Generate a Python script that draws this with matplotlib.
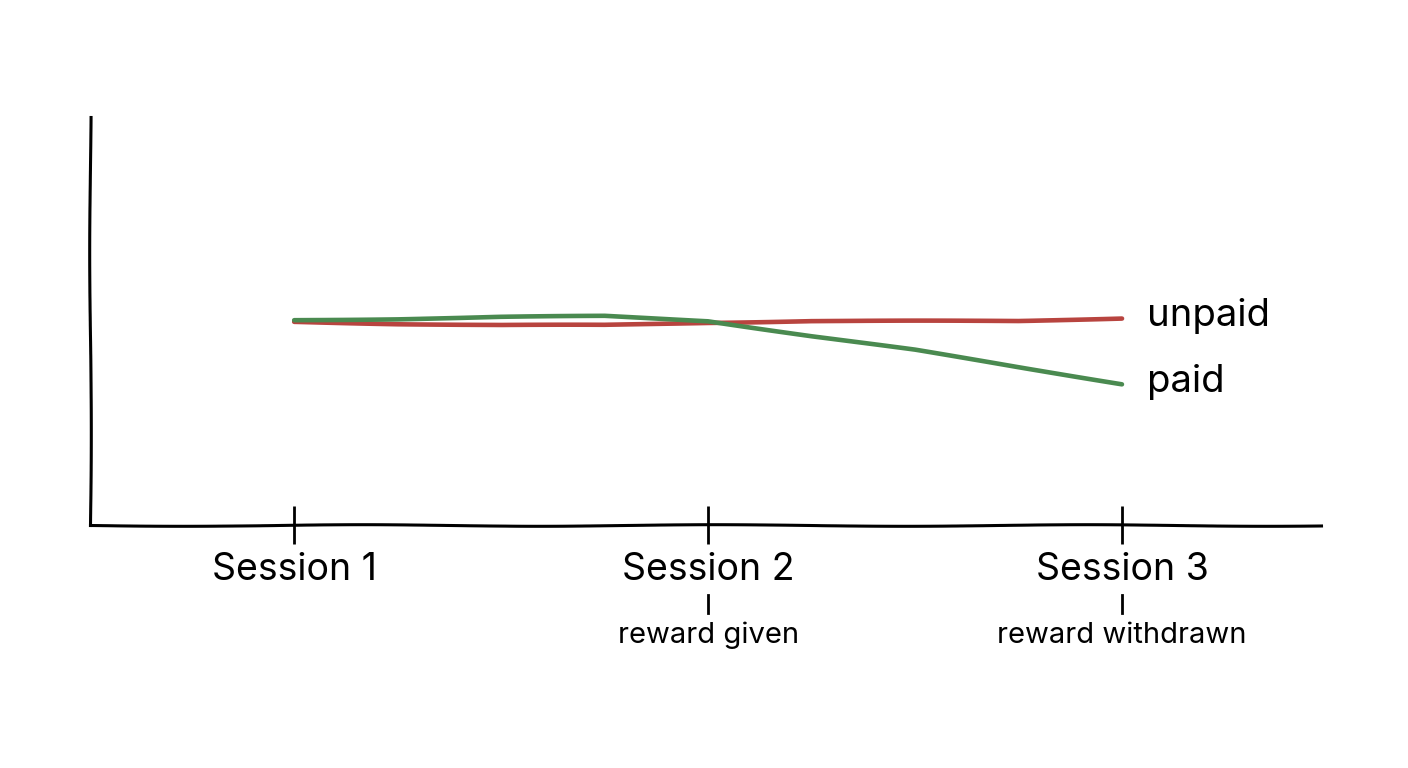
#!/usr/bin/env python3
"""Sketch-style line chart: paid vs unpaid across three sessions."""

import matplotlib
matplotlib.use('Agg')
import matplotlib.pyplot as plt

# ---------------------------------------------------------------------------
# Data
# ---------------------------------------------------------------------------

sessions       = ['Session 1', 'Session 2', 'Session 3']
session_x      = [1, 2, 3]
session_notes  = ['', 'reward given', 'reward withdrawn']

x_samples      = [1.0, 1.25, 1.5, 1.75, 2.0, 2.25, 2.5, 2.75, 3.0]
unpaid         = [49.8, 49.3, 49.0, 49.0, 49.6, 50.0, 50.0, 50.0, 50.7]
paid           = [50.2, 50.5, 51.0, 51.2, 50.0, 46.3, 42.9, 38.7, 34.6]

series_labels  = ['unpaid', 'paid']
series_colors  = ['#b8443f', '#4a8a50']

# ---------------------------------------------------------------------------
# Plot
# ---------------------------------------------------------------------------

plt.rcParams['font.family'] = ['Inter', 'DejaVu Sans']

fig = plt.figure(figsize=(14.08, 7.68), dpi=100)
ax = fig.add_axes([0.064, 0.316, 0.874, 0.532])
ax.set_xlim(0.507, 3.48)
ax.set_ylim(0, 100)

for ys, lab, col in zip([unpaid, paid], series_labels, series_colors):
    ln, = ax.plot(x_samples, ys, color=col, linewidth=3.3, solid_capstyle='round',
                  solid_joinstyle='round')
    ln.set_sketch_params(scale=0.4, length=400, randomness=2)
    ax.text(x_samples[-1] + 0.06, ys[-1] + 0.5, lab, fontsize=27.5,
            ha='left', va='center', color='black')

for sp in ['top', 'right']:
    ax.spines[sp].set_visible(False)
for sp in ['left', 'bottom']:
    ax.spines[sp].set_linewidth(2.2)
    ax.spines[sp].set_sketch_params(scale=0.8, length=400, randomness=2)

ax.set_yticks([])
ax.set_xticks(session_x)
ax.set_xticklabels(sessions, fontsize=27)
ax.tick_params(axis='x', direction='inout', length=28, width=2, pad=5)

for sx, note in zip(session_x, session_notes):
    if not note:
        continue
    ax.plot([sx, sx], [-17, -21.5], color='black', linewidth=2,
            clip_on=False)
    ax.text(sx, -27, note, fontsize=21, ha='center', va='center',
            color='black', clip_on=False)

fig.savefig('out.png', dpi=100, facecolor='white')
